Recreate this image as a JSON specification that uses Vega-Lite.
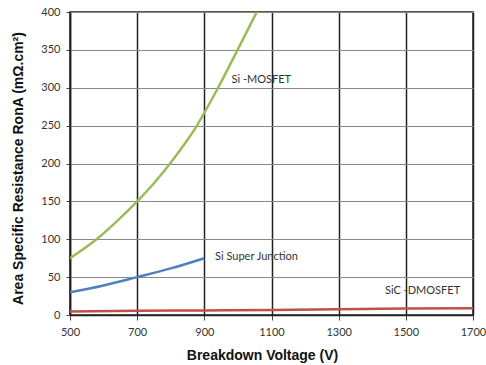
{
  "$schema": "https://vega.github.io/schema/vega-lite/v6.json",
  "width": 403,
  "height": 303,
  "autosize": "none",
  "padding": {"left": 70, "top": 12, "right": 13, "bottom": 50},
  "background": "white",
  "config": {
    "view": {"stroke": "#222222", "strokeWidth": 1.5},
    "axis": {"labelFont": "Lato", "titleFont": "Liberation Sans"}
  },
  "datasets": {
    "curves": [
      {"series": "Si-MOSFET", "v": 500, "r": 75},
      {"series": "Si-MOSFET", "v": 579, "r": 100},
      {"series": "Si-MOSFET", "v": 640, "r": 124},
      {"series": "Si-MOSFET", "v": 700, "r": 150},
      {"series": "Si-MOSFET", "v": 750, "r": 174},
      {"series": "Si-MOSFET", "v": 798, "r": 200},
      {"series": "Si-MOSFET", "v": 840, "r": 225},
      {"series": "Si-MOSFET", "v": 878, "r": 250},
      {"series": "Si-MOSFET", "v": 900, "r": 267},
      {"series": "Si-MOSFET", "v": 941, "r": 300},
      {"series": "Si-MOSFET", "v": 999, "r": 350},
      {"series": "Si-MOSFET", "v": 1056, "r": 400},
      {"series": "Si Super Junction", "v": 500, "r": 30},
      {"series": "Si Super Junction", "v": 600, "r": 39},
      {"series": "Si Super Junction", "v": 700, "r": 50},
      {"series": "Si Super Junction", "v": 800, "r": 61.5},
      {"series": "Si Super Junction", "v": 900, "r": 75},
      {"series": "SiC-DMOSFET", "v": 500, "r": 4.5},
      {"series": "SiC-DMOSFET", "v": 700, "r": 5.5},
      {"series": "SiC-DMOSFET", "v": 900, "r": 6},
      {"series": "SiC-DMOSFET", "v": 1100, "r": 6.5},
      {"series": "SiC-DMOSFET", "v": 1300, "r": 7.5},
      {"series": "SiC-DMOSFET", "v": 1500, "r": 8.5},
      {"series": "SiC-DMOSFET", "v": 1700, "r": 9}
    ],
    "labels": [
      {"label": "Si -MOSFET", "v": 981, "r": 310},
      {"label": "Si Super Junction", "v": 932, "r": 77},
      {"label": "SiC -DMOSFET", "v": 1438, "r": 31.6}
    ]
  },
  "encoding": {
    "x": {
      "field": "v", "type": "quantitative",
      "scale": {"domain": [500, 1700], "nice": false, "zero": false},
      "axis": {
        "values": [500, 700, 900, 1100, 1300, 1500, 1700],
        "format": "d",
        "labelOverlap": false, "labelFlush": false, "labelBound": false,
        "title": "Breakdown Voltage (V)",
        "titleFontSize": 14, "titleFontWeight": "bold", "titleColor": "#111111",
        "titleX": 192, "titleY": 40, "titleBaseline": "middle", "titleAnchor": null,
        "labelFontSize": 11, "labelColor": "#333333", "labelPadding": 6,
        "tickSize": 5, "tickColor": "#444444", "domainColor": "#222222", "domainWidth": 1.5,
        "grid": true, "gridColor": "#222222", "gridWidth": 1.5, "gridOpacity": 1
      }
    },
    "y": {
      "field": "r", "type": "quantitative",
      "scale": {"domain": [0, 400], "nice": false},
      "axis": {
        "values": [0, 50, 100, 150, 200, 250, 300, 350, 400],
        "format": "d",
        "labelOverlap": false, "labelFlush": false, "labelBound": false,
        "title": "Area Specific Resistance RonA (mΩ.cm²)",
        "titleFontSize": 14, "titleFontWeight": "bold", "titleColor": "#111111",
        "titleX": -52, "titleY": 156, "titleBaseline": "middle", "titleAngle": -90, "titleAnchor": null,
        "labelFontSize": 11, "labelColor": "#333333", "labelPadding": 6,
        "tickSize": 4, "tickColor": "#444444", "domainColor": "#222222", "domainWidth": 1.5,
        "grid": true, "gridColor": "#888888", "gridWidth": 1, "gridOpacity": 1
      }
    }
  },
  "layer": [
    {
      "data": {"name": "curves"},
      "mark": {"type": "line", "strokeWidth": 2.5, "interpolate": "monotone", "clip": true},
      "encoding": {
        "color": {
          "field": "series", "type": "nominal",
          "scale": {"domain": ["Si-MOSFET", "Si Super Junction", "SiC-DMOSFET"], "range": ["#9BBB59", "#4F81BD", "#C0504D"]},
          "legend": null
        }
      }
    },
    {
      "data": {"name": "labels"},
      "mark": {"type": "text", "align": "left", "baseline": "middle", "font": "Lato", "fontSize": 11, "color": "#333333"},
      "encoding": {
        "text": {"field": "label"}
      }
    }
  ]
}
